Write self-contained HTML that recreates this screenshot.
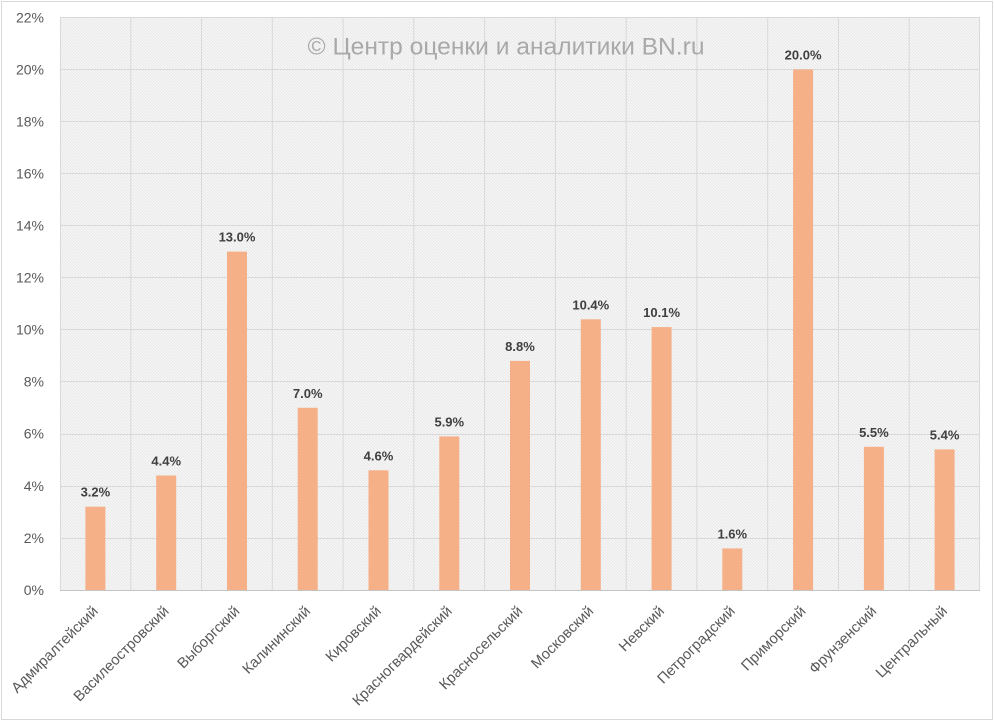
<!DOCTYPE html>
<html><head><meta charset="utf-8"><style>
html,body{margin:0;padding:0;background:#fff;}
svg{display:block;}
</style></head><body>
<svg width="994" height="721" xmlns="http://www.w3.org/2000/svg" font-family="'Liberation Sans', sans-serif">
<defs>
<pattern id="h" width="3" height="3" patternUnits="userSpaceOnUse">
<rect width="3" height="3" fill="#f7f7f7"/>
<path d="M0,0 L3,3 M-1,2 L1,4 M2,-1 L4,1" stroke="#e6e6e6" stroke-width="0.8"/>
</pattern>
</defs>
<rect x="0" y="0" width="994" height="721" fill="#fff"/>
<rect x="1.5" y="1.5" width="991" height="718" fill="none" stroke="#d9d9d9" stroke-width="1"/>
<rect x="60" y="17.3" width="920" height="572.7" fill="url(#h)"/>
<g stroke="#d9d9d9" stroke-width="1">
<line x1="60" y1="17.5" x2="980" y2="17.5"/>
<line x1="60" y1="69.5" x2="980" y2="69.5"/>
<line x1="60" y1="121.5" x2="980" y2="121.5"/>
<line x1="60" y1="173.5" x2="980" y2="173.5"/>
<line x1="60" y1="225.5" x2="980" y2="225.5"/>
<line x1="60" y1="277.5" x2="980" y2="277.5"/>
<line x1="60" y1="329.5" x2="980" y2="329.5"/>
<line x1="60" y1="381.5" x2="980" y2="381.5"/>
<line x1="60" y1="434.5" x2="980" y2="434.5"/>
<line x1="60" y1="486.5" x2="980" y2="486.5"/>
<line x1="60" y1="538.5" x2="980" y2="538.5"/>
<line x1="60.5" y1="17" x2="60.5" y2="590"/>
<line x1="130.8" y1="17" x2="130.8" y2="590"/>
<line x1="201.5" y1="17" x2="201.5" y2="590"/>
<line x1="272.3" y1="17" x2="272.3" y2="590"/>
<line x1="343.1" y1="17" x2="343.1" y2="590"/>
<line x1="413.8" y1="17" x2="413.8" y2="590"/>
<line x1="484.6" y1="17" x2="484.6" y2="590"/>
<line x1="555.4" y1="17" x2="555.4" y2="590"/>
<line x1="626.2" y1="17" x2="626.2" y2="590"/>
<line x1="696.9" y1="17" x2="696.9" y2="590"/>
<line x1="767.7" y1="17" x2="767.7" y2="590"/>
<line x1="838.5" y1="17" x2="838.5" y2="590"/>
<line x1="909.2" y1="17" x2="909.2" y2="590"/>
<line x1="979.5" y1="17" x2="979.5" y2="590"/>
</g>
<line x1="60" y1="590.5" x2="980" y2="590.5" stroke="#c4c4c4" stroke-width="1"/>
<text x="506" y="54.3" text-anchor="middle" font-size="24.5" fill="#a9a9a9" textLength="397" lengthAdjust="spacingAndGlyphs">© Центр оценки и аналитики BN.ru</text>
<g font-size="14" fill="#595959" text-anchor="end">
<text x="44" y="22.3">22%</text>
<text x="44" y="74.3">20%</text>
<text x="44" y="126.3">18%</text>
<text x="44" y="178.4">16%</text>
<text x="44" y="230.5">14%</text>
<text x="44" y="282.5">12%</text>
<text x="44" y="334.6">10%</text>
<text x="44" y="386.6">8%</text>
<text x="44" y="438.7">6%</text>
<text x="44" y="490.8">4%</text>
<text x="44" y="542.8">2%</text>
<text x="44" y="594.9">0%</text>
</g>
<g fill="#f6b088">
<rect x="85.4" y="506.7" width="20" height="83.3"/>
<rect x="156.2" y="475.5" width="20" height="114.5"/>
<rect x="227" y="251.6" width="20" height="338.4"/>
<rect x="297.7" y="407.8" width="20" height="182.2"/>
<rect x="368.5" y="470.3" width="20" height="119.7"/>
<rect x="439.3" y="436.4" width="20" height="153.6"/>
<rect x="510" y="360.9" width="20" height="229.1"/>
<rect x="580.8" y="319.3" width="20" height="270.7"/>
<rect x="651.6" y="327.1" width="20" height="262.9"/>
<rect x="722.3" y="548.4" width="20" height="41.6"/>
<rect x="793.1" y="69.4" width="20" height="520.6"/>
<rect x="863.9" y="446.8" width="20" height="143.2"/>
<rect x="934.6" y="449.4" width="20" height="140.6"/>
</g>
<g font-size="13" font-weight="bold" fill="#404040" text-anchor="middle">
<text x="95.4" y="496.7">3.2%</text>
<text x="166.2" y="465.5">4.4%</text>
<text x="237" y="241.6">13.0%</text>
<text x="307.7" y="397.8">7.0%</text>
<text x="378.5" y="460.3">4.6%</text>
<text x="449.3" y="426.4">5.9%</text>
<text x="520" y="350.9">8.8%</text>
<text x="590.8" y="309.3">10.4%</text>
<text x="661.6" y="317.1">10.1%</text>
<text x="732.3" y="538.4">1.6%</text>
<text x="803.1" y="59.4">20.0%</text>
<text x="873.9" y="436.8">5.5%</text>
<text x="944.6" y="439.4">5.4%</text>
</g>
<g font-size="14.8" fill="#595959" text-anchor="end">
<text transform="translate(98.9,612) rotate(-45)">Адмиралтейский</text>
<text transform="translate(169.7,612) rotate(-45)">Василеостровский</text>
<text transform="translate(240.5,612) rotate(-45)">Выборгский</text>
<text transform="translate(311.2,612) rotate(-45)">Калининский</text>
<text transform="translate(382,612) rotate(-45)">Кировский</text>
<text transform="translate(452.8,612) rotate(-45)">Красногвардейский</text>
<text transform="translate(523.5,612) rotate(-45)">Красносельский</text>
<text transform="translate(594.3,612) rotate(-45)">Московский</text>
<text transform="translate(665.1,612) rotate(-45)">Невский</text>
<text transform="translate(735.8,612) rotate(-45)">Петроградский</text>
<text transform="translate(806.6,612) rotate(-45)">Приморский</text>
<text transform="translate(877.4,612) rotate(-45)">Фрунзенский</text>
<text transform="translate(948.1,612) rotate(-45)">Центральный</text>
</g>
</svg>
</body></html>
